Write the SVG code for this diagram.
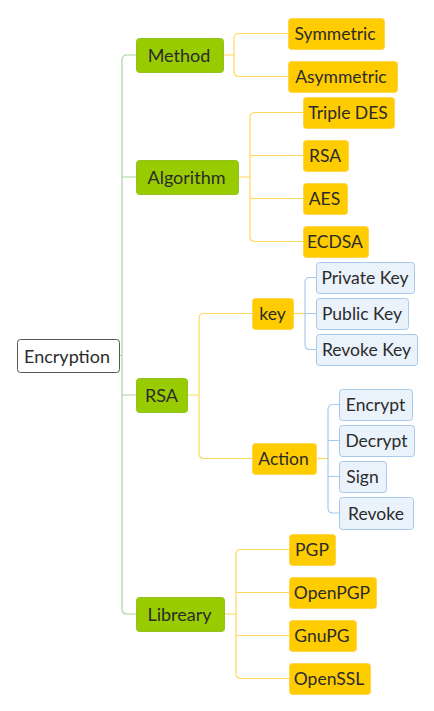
<svg xmlns="http://www.w3.org/2000/svg" width="434" height="711" viewBox="0 0 434 711">
<style>
text{font-family:Lato,"Open Sans","Liberation Sans",sans-serif;font-size:17.5px;fill:#2b2b2b;text-anchor:middle}
.root rect{fill:#fff;stroke:#555;stroke-width:1}
.root text{font-size:18px}
.g rect{fill:#99cc00;stroke:#8fc31f;stroke-width:1}
.g text{font-size:18px}
.y rect{fill:#ffcc00;stroke:#ffd54d;stroke-width:1}
.b rect{fill:#eaf2fb;stroke:#a9c9ea;stroke-width:1}
.cg{fill:none;stroke:#a8d6a0;stroke-width:1.2}
.cy{fill:none;stroke:#ffd85a;stroke-width:1.2}
.cb{fill:none;stroke:#a9c9ea;stroke-width:1.2}
</style>
<rect width="434" height="711" fill="#fff"/>
<g id="connectors">
<path class="cg" d="M119 355.5H122M136 55H127Q122 55 122 60V609Q122 614 127 614H136M122 177H136M122 395H136"/>
<path class="cy" d="M223 55H234M288 33.5H239Q234 33.5 234 38.5V71.5Q234 76.5 239 76.5H288"/>
<path class="cy" d="M238 177H250M303 112.5H255Q250 112.5 250 117.5V236.5Q250 241.5 255 241.5H303M250 155.5H303M250 198.5H303"/>
<path class="cy" d="M187 395H199M252 313.5H204Q199 313.5 199 318.5V453.5Q199 458.5 204 458.5H252"/>
<path class="cy" d="M224 614H236M289 549.5H241Q236 549.5 236 554.5V673.5Q236 678.5 241 678.5H289M236 592.5H289M236 635.5H289"/>
<path class="cy" d="M293 313.5H305"/>
<path class="cb" d="M305 313.5H316M316 277.5H310Q305 277.5 305 282.5V344.5Q305 349.5 310 349.5H316"/>
<path class="cy" d="M316 458.5H328"/>
<path class="cb" d="M339 404.5H333Q328 404.5 328 409.5V508Q328 513 333 513H339M328 440.5H339M328 476.5H339"/>
</g>
<g id="encryption" class="root"><rect x="17.5" y="339.5" width="102" height="33" rx="3"/><text x="67" y="362.5">Encryption</text></g>
<g id="method" class="g"><rect x="136.5" y="38.5" width="87" height="34" rx="3"/><text x="179" y="62">Method</text></g>
<g id="algorithm" class="g"><rect x="136.5" y="160.5" width="102" height="34" rx="3"/><text x="186.5" y="184">Algorithm</text></g>
<g id="rsa-green" class="g"><rect x="136.5" y="378.5" width="51" height="34" rx="3"/><text x="161.5" y="402">RSA</text></g>
<g id="libreary" class="g"><rect x="136.5" y="597.5" width="88" height="34" rx="3"/><text x="179.5" y="621">Libreary</text></g>
<g id="symmetric" class="y"><rect x="288.5" y="18.5" width="96" height="31" rx="3"/><text x="335" y="40">Symmetric</text></g>
<g id="asymmetric" class="y"><rect x="288.5" y="61.5" width="109" height="31" rx="3"/><text x="341" y="83">Asymmetric</text></g>
<g id="tripledes" class="y"><rect x="303.5" y="97.5" width="91" height="31" rx="3"/><text x="348" y="119">Triple DES</text></g>
<g id="rsa" class="y"><rect x="303.5" y="140.5" width="45" height="31" rx="3"/><text x="325" y="162">RSA</text></g>
<g id="aes" class="y"><rect x="303.5" y="183.5" width="44" height="31" rx="3"/><text x="324.5" y="205">AES</text></g>
<g id="ecdsa" class="y"><rect x="303.5" y="226.5" width="65" height="31" rx="3"/><text x="335" y="248">ECDSA</text></g>
<g id="key" class="y"><rect x="252.5" y="298.5" width="41" height="31" rx="3"/><text x="272.5" y="320">key</text></g>
<g id="action" class="y"><rect x="252.5" y="443.5" width="64" height="31" rx="3"/><text x="283.5" y="465">Action</text></g>
<g id="privatekey" class="b"><rect x="316.5" y="262.5" width="98" height="31" rx="3"/><text x="365" y="284">Private Key</text></g>
<g id="publickey" class="b"><rect x="316.5" y="298.5" width="92" height="31" rx="3"/><text x="362" y="320">Public Key</text></g>
<g id="revokekey" class="b"><rect x="316.5" y="334.5" width="101" height="31" rx="3"/><text x="366.5" y="356">Revoke Key</text></g>
<g id="encrypt" class="b"><rect x="339.5" y="389.5" width="73" height="31" rx="3"/><text x="375.5" y="411">Encrypt</text></g>
<g id="decrypt" class="b"><rect x="339.5" y="425.5" width="75" height="31" rx="3"/><text x="376.5" y="447">Decrypt</text></g>
<g id="sign" class="b"><rect x="339.5" y="461.5" width="47" height="31" rx="3"/><text x="362.5" y="483">Sign</text></g>
<g id="revoke" class="b"><rect x="339.5" y="497.5" width="74" height="32" rx="3"/><text x="376" y="519.5">Revoke</text></g>
<g id="pgp" class="y"><rect x="289.5" y="534.5" width="46" height="31" rx="3"/><text x="312" y="556">PGP</text></g>
<g id="openpgp" class="y"><rect x="289.5" y="577.5" width="87" height="31" rx="3"/><text x="332" y="599">OpenPGP</text></g>
<g id="gnupg" class="y"><rect x="289.5" y="620.5" width="67" height="31" rx="3"/><text x="322" y="642">GnuPG</text></g>
<g id="openssl" class="y"><rect x="289.5" y="663.5" width="81" height="31" rx="3"/><text x="329" y="685">OpenSSL</text></g>
</svg>
